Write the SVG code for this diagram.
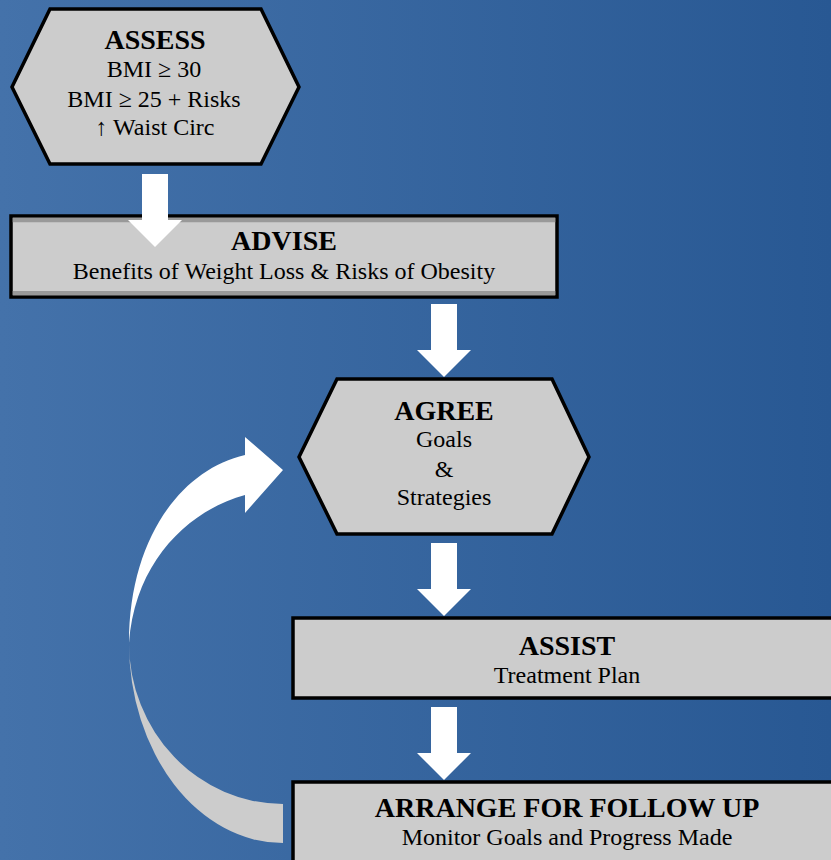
<svg xmlns="http://www.w3.org/2000/svg" xmlns:xlink="http://www.w3.org/1999/xlink" width="831" height="860" viewBox="0 0 831 860">
  <defs>
    <linearGradient id="bg" x1="0" y1="0" x2="1" y2="0">
      <stop offset="0" stop-color="#4472aa"/>
      <stop offset="1" stop-color="#285893"/>
    </linearGradient>
    <path id="blockArrow" d="M-13,-73 H13 V-27 H27 L0,0 L-27,-27 H-13 Z" fill="#ffffff"/>
    <style>
      .shape { fill: #cccccc; stroke: #000000; stroke-width: 3.5; stroke-linejoin: miter; }
      .title { font-family: "Liberation Serif", "Times New Roman", serif; font-weight: bold; font-size: 28px; fill: #000000; text-anchor: middle; }
      .body { font-family: "Liberation Serif", "Times New Roman", serif; font-size: 24px; fill: #000000; text-anchor: middle; }
      .stripe { fill: #999999; }
    </style>
  </defs>

  <rect x="0" y="0" width="831" height="860" fill="url(#bg)"/>

  <g id="assess">
    <polygon class="shape" points="50,9 261,9 299,87 261,164 50,164 12,87"/>
    <text class="title" x="155" y="49">ASSESS</text>
    <text class="body" x="154" y="77">BMI ≥ 30</text>
    <text class="body" x="154" y="107">BMI ≥ 25 + Risks</text>
    <text class="body" x="155" y="135">↑ Waist Circ</text>
  </g>

  <g id="advise">
    <rect class="shape" x="11" y="216" width="546" height="81"/>
    <rect class="stripe" x="12.75" y="217.75" width="542.5" height="4.5"/>
    <rect class="stripe" x="12.75" y="291" width="542.5" height="4.25"/>
    <text class="title" x="284" y="250">ADVISE</text>
    <text class="body" x="284" y="279">Benefits of Weight Loss &amp; Risks of Obesity</text>
  </g>

  <g id="agree">
    <polygon class="shape" points="337,379 552,379 589,457 552,534 337,534 299,457"/>
    <text class="title" x="444" y="420">AGREE</text>
    <text class="body" x="444" y="447">Goals</text>
    <text class="body" x="444" y="477">&amp;</text>
    <text class="body" x="444" y="505">Strategies</text>
  </g>

  <g id="assist">
    <rect class="shape" x="293" y="618" width="560" height="80"/>
    <text class="title" x="567" y="655">ASSIST</text>
    <text class="body" x="567" y="683">Treatment Plan</text>
  </g>

  <g id="arrange">
    <rect class="shape" x="293" y="782" width="560" height="100"/>
    <text class="title" x="567" y="817">ARRANGE FOR FOLLOW UP</text>
    <text class="body" x="567" y="845">Monitor Goals and Progress Made</text>
  </g>

  <g id="connectors">
    <use xlink:href="#blockArrow" href="#blockArrow" transform="translate(155,247)"/>
    <use xlink:href="#blockArrow" href="#blockArrow" transform="translate(444,377)"/>
    <use xlink:href="#blockArrow" href="#blockArrow" transform="translate(444,616)"/>
    <use xlink:href="#blockArrow" href="#blockArrow" transform="translate(444,780)"/>
    <g id="loop-arrow">
      <path d="M283,843 A154,200 0 0 1 129,643 A154,161 0 0 0 283,804 Z" fill="#cccccc"/>
      <path d="M129,643 C129,540 180,470 245,455 L245,437 L283,470 L245,513 L245,495 C190,510 135,560 129,643 Z" fill="#ffffff"/>
    </g>
  </g>
</svg>
